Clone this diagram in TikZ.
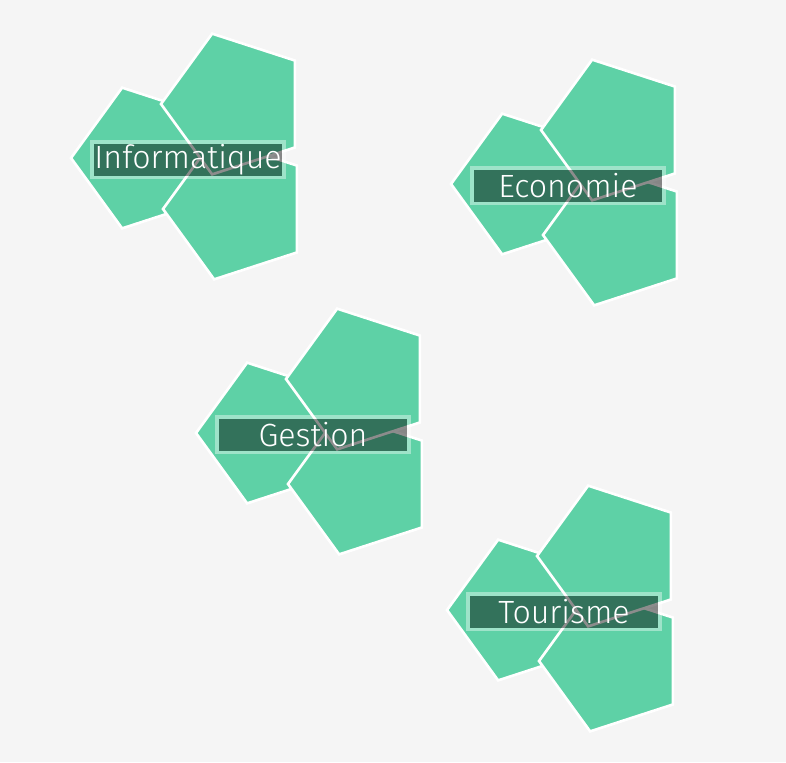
\documentclass[tikz,border=0pt]{standalone}
\usepackage{fontspec}
\setmainfont{Fira Sans Light}
\usepackage{tikz}
\usepackage{xcolor}
\usetikzlibrary{shapes.geometric}
\definecolor{cMint}{RGB}{94,209,166}
\definecolor{cBack}{RGB}{245,245,245}
\tikzset{
	penta/.style={regular polygon, regular polygon sides=5, shape border rotate=90, minimum size=2.96cm, inner sep=0pt, outer sep=0pt, fill=cMint, draw=white, line width=1.5pt},
	% translucent label on top of the three pentagons
	tagbox/.style={rectangle, minimum width=3.78cm, minimum height=0.64cm, inner sep=0pt, outer sep=0.035cm, text centered, fill=black, fill opacity=0.45, text opacity=1, text=white, font=\fontsize{18.3}{20}\selectfont},
	tagframe/.style={draw=white, draw opacity=0.4, line width=2pt},
}
\begin{document}
\begin{tikzpicture}[x=0.02cm, y=-0.02cm]
	\fill[cBack] (0,0) rectangle (786,762);
	\begin{scope}[shift={(145,158)}]
		\node[penta] (inf-l) at (0,0) {};
		\node[penta] (inf-b) at (92,51) {};
		\node[penta] (inf-t) at (90,-54) {};
		\node[tagbox] (inf) at (43,1.5) {Informatique};
		\draw[tagframe] (inf.south west) rectangle (inf.north east);
	\end{scope}
	\begin{scope}[shift={(525,184)}]
		\node[penta] (eco-l) at (0,0) {};
		\node[penta] (eco-b) at (92,51) {};
		\node[penta] (eco-t) at (90,-54) {};
		\node[tagbox] (eco) at (43,1.5) {Economie};
		\draw[tagframe] (eco.south west) rectangle (eco.north east);
	\end{scope}
	\begin{scope}[shift={(270,433)}]
		\node[penta] (ges-l) at (0,0) {};
		\node[penta] (ges-b) at (92,51) {};
		\node[penta] (ges-t) at (90,-54) {};
		\node[tagbox] (ges) at (43,1.5) {Gestion};
		\draw[tagframe] (ges.south west) rectangle (ges.north east);
	\end{scope}
	\begin{scope}[shift={(521,610)}]
		\node[penta] (tou-l) at (0,0) {};
		\node[penta] (tou-b) at (92,51) {};
		\node[penta] (tou-t) at (90,-54) {};
		\node[tagbox] (tou) at (43,1.5) {Tourisme};
		\draw[tagframe] (tou.south west) rectangle (tou.north east);
	\end{scope}
\end{tikzpicture}
\end{document}
